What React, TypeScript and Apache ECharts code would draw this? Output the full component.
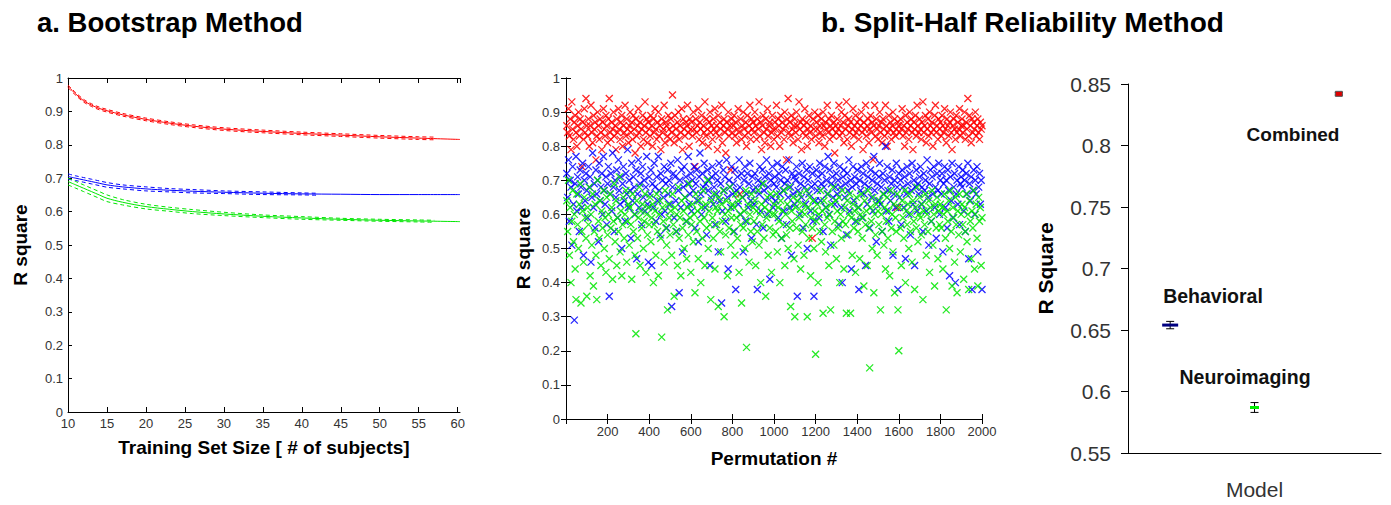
import React, { useEffect, useRef } from "react";
import * as echarts from "echarts";

// ---------- Panel a: Bootstrap method ----------
const trainingSizes = [10, 11, 12, 13, 14, 15, 17, 20, 23, 26, 30, 35, 40, 45, 50, 55, 60.3];
const combinedCurve = [0.975, 0.952, 0.932, 0.919, 0.909, 0.902, 0.89, 0.876, 0.865, 0.856, 0.847, 0.84, 0.834, 0.829, 0.824, 0.82, 0.816];
const behavioralCurve = [0.705, 0.7, 0.695, 0.69, 0.685, 0.68, 0.674, 0.668, 0.664, 0.661, 0.658, 0.655, 0.653, 0.652, 0.651, 0.651, 0.651];
const neuroCurve = [0.69, 0.68, 0.67, 0.66, 0.65, 0.64, 0.628, 0.615, 0.607, 0.6, 0.593, 0.586, 0.581, 0.577, 0.574, 0.572, 0.57];

const boundSizes = [10, 11, 12, 13, 14, 15, 17, 20, 23, 26, 30, 35, 40, 45, 50, 55, 57];
const combinedUpper = [0.979, 0.956, 0.936, 0.923, 0.913, 0.906, 0.894, 0.88, 0.869, 0.86, 0.851, 0.844, 0.838, 0.833, 0.828, 0.824, 0.823];
const combinedLower = [0.971, 0.948, 0.928, 0.915, 0.905, 0.898, 0.886, 0.872, 0.861, 0.852, 0.843, 0.836, 0.83, 0.825, 0.82, 0.816, 0.815];
const behavBoundSizes = [10, 11, 12, 13, 14, 15, 17, 20, 23, 26, 30, 35, 40, 42];
const behavioralUpper = [0.713, 0.707, 0.702, 0.697, 0.692, 0.687, 0.68, 0.674, 0.669, 0.666, 0.662, 0.659, 0.656, 0.655];
const behavioralLower = [0.697, 0.693, 0.688, 0.683, 0.678, 0.673, 0.668, 0.662, 0.659, 0.656, 0.654, 0.651, 0.65, 0.649];
const neuroUpper = [0.7, 0.69, 0.68, 0.67, 0.66, 0.65, 0.636, 0.622, 0.613, 0.606, 0.598, 0.59, 0.585, 0.58, 0.577, 0.575, 0.574];
const neuroLower = [0.68, 0.67, 0.66, 0.65, 0.64, 0.63, 0.62, 0.608, 0.601, 0.594, 0.588, 0.582, 0.577, 0.574, 0.571, 0.569, 0.568];

const trainingTicks = { min: 10, max: 60.3, interval: 5 };

// ---------- Panel b: Split-half permutations (every 4th permutation) ----------
const PERM_STEP = 4;
const permCombined = [
  0.86,0.84,0.91,0.83,0.88,0.79,0.93,0.85,0.82,0.87,0.89,0.84,0.80,0.86,0.90,0.83,0.88,0.85,0.74,0.87,0.82,0.91,0.84,0.94,0.86,
  0.83,0.88,0.80,0.86,0.92,0.84,0.81,0.89,0.85,0.87,0.76,0.83,0.90,0.86,0.82,0.88,0.84,0.79,0.87,0.91,0.85,0.83,0.89,0.86,0.81,
  0.88,0.94,0.84,0.82,0.87,0.85,0.90,0.83,0.86,0.79,0.88,0.84,0.91,0.85,0.82,0.87,0.89,0.80,0.86,0.84,0.92,0.83,0.88,0.85,0.81,
  0.86,0.90,0.84,0.87,0.82,0.89,0.85,0.78,0.88,0.83,0.86,0.91,0.84,0.87,0.80,0.85,0.89,0.82,0.86,0.93,0.84,0.88,0.81,0.87,0.85,
  0.83,0.89,0.86,0.80,0.88,0.84,0.91,0.85,0.82,0.87,0.90,0.83,0.86,0.79,0.88,0.84,0.85,0.92,0.81,0.87,0.86,0.83,0.89,0.85,0.82,
  0.88,0.84,0.95,0.86,0.81,0.89,0.85,0.83,0.87,0.90,0.82,0.86,0.84,0.91,0.79,0.88,0.85,0.83,0.87,0.86,0.92,0.84,0.80,0.88,0.85,
  0.87,0.83,0.90,0.85,0.74,0.88,0.84,0.86,0.91,0.82,0.87,0.85,0.89,0.81,0.86,0.84,0.93,0.83,0.88,0.85,0.80,0.87,0.90,0.84,0.86,
  0.82,0.88,0.85,0.91,0.84,0.86,0.79,0.89,0.83,0.87,0.85,0.92,0.81,0.86,0.88,0.84,0.78,0.87,0.85,0.90,0.83,0.86,0.73,0.88,0.84,
  0.86,0.89,0.83,0.87,0.81,0.85,0.91,0.84,0.66,0.88,0.82,0.86,0.90,0.85,0.83,0.87,0.80,0.89,0.84,0.86,0.92,0.82,0.88,0.85,0.87,
  0.84,0.90,0.86,0.82,0.88,0.85,0.93,0.83,0.87,0.79,0.86,0.89,0.84,0.81,0.88,0.85,0.91,0.83,0.86,0.87,0.80,0.84,0.89,0.85,0.82,
  0.87,0.85,0.92,0.83,0.88,0.86,0.80,0.89,0.84,0.87,0.85,0.82,0.90,0.86,0.76,0.88,0.94,0.84,0.87,0.83,0.89,0.85,0.81,0.86,0.88,
  0.84,0.90,0.86,0.82,0.93,0.85,0.87,0.79,0.88,0.84,0.86,0.91,0.83,0.87,0.80,0.85,0.89,0.84,0.86,0.82,0.53,0.88,0.85,0.90,0.83,
  0.87,0.85,0.89,0.81,0.86,0.84,0.88,0.83,0.90,0.86,0.80,0.87,0.85,0.92,0.84,0.88,0.82,0.86,0.89,0.85,0.83,0.87,0.78,0.86,0.84,
  0.88,0.85,0.92,0.83,0.86,0.90,0.84,0.87,0.81,0.89,0.85,0.93,0.82,0.86,0.88,0.84,0.87,0.80,0.85,0.91,0.83,0.86,0.89,0.84,0.87,
  0.85,0.82,0.88,0.86,0.90,0.84,0.79,0.87,0.85,0.92,0.83,0.86,0.88,0.81,0.85,0.89,0.84,0.87,0.76,0.86,0.92,0.83,0.88,0.85,0.82,
  0.86,0.90,0.84,0.87,0.81,0.88,0.85,0.83,0.92,0.86,0.80,0.84,0.89,0.85,0.87,0.82,0.86,0.90,0.84,0.88,0.83,0.85,0.62,0.87,0.86,
  0.84,0.88,0.85,0.91,0.83,0.86,0.80,0.89,0.84,0.87,0.85,0.82,0.90,0.86,0.88,0.84,0.79,0.87,0.85,0.89,0.83,0.92,0.86,0.84,0.88,
  0.85,0.82,0.87,0.93,0.84,0.86,0.89,0.81,0.85,0.88,0.83,0.90,0.86,0.84,0.87,0.80,0.85,0.89,0.92,0.84,0.86,0.82,0.88,0.85,0.87,
  0.83,0.89,0.86,0.84,0.91,0.85,0.81,0.88,0.86,0.83,0.87,0.90,0.84,0.79,0.86,0.88,0.85,0.82,0.89,0.84,0.87,0.85,0.91,0.83,0.86,
  0.88,0.84,0.86,0.90,0.82,0.87,0.85,0.94,0.83,0.89,0.86,0.81,0.88,0.84,0.87,0.85,0.90,0.83,0.86,0.88,0.84,0.82,0.87,0.85,0.86,
];
const permBehavioral = [
  0.72,0.65,0.76,0.58,0.70,0.68,0.51,0.74,0.63,0.29,0.69,0.77,0.61,0.71,0.66,0.55,0.73,0.68,0.62,0.75,0.48,0.70,0.64,0.72,0.67,
  0.59,0.74,0.68,0.71,0.46,0.65,0.78,0.62,0.69,0.56,0.73,0.66,0.70,0.52,0.75,0.64,0.68,0.72,0.60,0.77,0.67,0.63,0.71,0.57,0.69,
  0.74,0.36,0.66,0.72,0.61,0.78,0.68,0.55,0.70,0.65,0.73,0.59,0.76,0.67,0.63,0.71,0.50,0.69,0.74,0.64,0.58,0.72,0.66,0.79,0.62,
  0.70,0.67,0.53,0.75,0.64,0.71,0.68,0.60,0.73,0.47,0.66,0.76,0.62,0.69,0.72,0.57,0.74,0.65,0.70,0.61,0.68,0.77,0.63,0.46,0.71,
  0.66,0.73,0.45,0.69,0.62,0.75,0.68,0.58,0.71,0.64,0.77,0.67,0.54,0.72,0.60,0.70,0.65,0.74,0.61,0.69,0.56,0.73,0.66,0.70,0.63,
  0.75,0.33,0.68,0.72,0.59,0.71,0.64,0.55,0.76,0.67,0.37,0.70,0.62,0.73,0.49,0.68,0.74,0.65,0.71,0.58,0.69,0.77,0.63,0.66,0.72,
  0.61,0.70,0.67,0.74,0.56,0.69,0.73,0.64,0.52,0.71,0.78,0.66,0.60,0.72,0.68,0.75,0.62,0.69,0.54,0.73,0.67,0.70,0.45,0.65,0.71,
  0.74,0.63,0.68,0.57,0.72,0.66,0.70,0.49,0.75,0.64,0.69,0.34,0.61,0.73,0.67,0.71,0.58,0.76,0.65,0.44,0.70,0.68,0.62,0.74,0.66,
  0.69,0.55,0.73,0.38,0.67,0.71,0.63,0.76,0.68,0.60,0.72,0.65,0.49,0.70,0.74,0.58,0.66,0.72,0.62,0.69,0.75,0.64,0.53,0.71,0.67,
  0.63,0.72,0.68,0.57,0.38,0.70,0.66,0.74,0.61,0.69,0.73,0.56,0.67,0.71,0.64,0.76,0.60,0.68,0.72,0.41,0.70,0.65,0.74,0.62,0.69,
  0.71,0.64,0.68,0.75,0.59,0.72,0.66,0.70,0.53,0.74,0.67,0.61,0.69,0.73,0.57,0.70,0.65,0.76,0.62,0.68,0.48,0.72,0.66,0.71,0.63,
  0.70,0.74,0.36,0.67,0.72,0.60,0.69,0.65,0.75,0.56,0.71,0.68,0.63,0.73,0.50,0.70,0.66,0.74,0.61,0.68,0.72,0.58,0.36,0.69,0.64,
  0.73,0.67,0.71,0.59,0.75,0.64,0.69,0.72,0.55,0.68,0.74,0.62,0.70,0.66,0.77,0.60,0.73,0.51,0.69,0.71,0.65,0.75,0.63,0.68,0.72,
  0.66,0.70,0.57,0.74,0.68,0.62,0.40,0.71,0.73,0.65,0.69,0.54,0.72,0.67,0.76,0.61,0.70,0.44,0.68,0.74,0.64,0.71,0.58,0.69,0.73,
  0.62,0.38,0.70,0.67,0.74,0.59,0.72,0.66,0.69,0.45,0.75,0.63,0.71,0.68,0.56,0.73,0.65,0.70,0.61,0.77,0.67,0.72,0.52,0.69,0.64,
  0.71,0.75,0.63,0.68,0.55,0.72,0.66,0.70,0.80,0.61,0.74,0.67,0.58,0.71,0.64,0.69,0.73,0.48,0.66,0.70,0.62,0.75,0.68,0.38,0.72,
  0.65,0.70,0.57,0.73,0.68,0.62,0.71,0.47,0.66,0.74,0.69,0.60,0.72,0.54,0.67,0.75,0.63,0.70,0.45,0.68,0.73,0.61,0.69,0.66,0.71,
  0.74,0.63,0.68,0.55,0.72,0.67,0.70,0.61,0.76,0.65,0.51,0.69,0.73,0.58,0.71,0.66,0.74,0.62,0.68,0.53,0.72,0.67,0.75,0.60,0.70,
  0.66,0.72,0.49,0.69,0.74,0.62,0.70,0.56,0.73,0.67,0.42,0.71,0.64,0.75,0.59,0.68,0.72,0.40,0.66,0.70,0.63,0.74,0.57,0.69,0.71,
  0.68,0.73,0.61,0.70,0.55,0.72,0.66,0.75,0.47,0.69,0.64,0.71,0.38,0.67,0.73,0.60,0.70,0.66,0.74,0.49,0.68,0.72,0.63,0.70,0.38,
];
const permNeuro = [
  0.64,0.55,0.70,0.48,0.62,0.40,0.58,0.67,0.52,0.60,0.44,0.35,0.66,0.57,0.50,0.63,0.69,0.34,0.55,0.61,0.46,0.65,0.59,0.53,0.36,
  0.62,0.57,0.68,0.42,0.60,0.51,0.66,0.39,0.55,0.63,0.48,0.35,0.70,0.58,0.53,0.64,0.45,0.61,0.56,0.67,0.50,0.59,0.43,0.65,0.54,
  0.60,0.47,0.66,0.56,0.62,0.41,0.58,0.69,0.52,0.64,0.45,0.59,0.55,0.71,0.49,0.61,0.42,0.57,0.65,0.53,0.60,0.67,0.46,0.58,0.63,
  0.51,0.62,0.57,0.41,0.66,0.55,0.60,0.48,0.25,0.64,0.53,0.59,0.68,0.45,0.61,0.56,0.63,0.50,0.58,0.66,0.43,0.60,0.54,0.62,0.57,
  0.65,0.52,0.59,0.63,0.40,0.57,0.61,0.48,0.66,0.55,0.42,0.60,0.64,0.53,0.24,0.62,0.58,0.46,0.67,0.56,0.51,0.32,0.63,0.59,0.54,
  0.61,0.48,0.66,0.57,0.36,0.62,0.55,0.60,0.45,0.68,0.53,0.59,0.42,0.64,0.56,0.61,0.50,0.65,0.58,0.47,0.62,0.54,0.69,0.59,0.43,
  0.57,0.63,0.52,0.60,0.37,0.66,0.55,0.61,0.47,0.64,0.58,0.40,0.62,0.53,0.67,0.59,0.45,0.63,0.56,0.70,0.50,0.61,0.57,0.35,0.64,
  0.59,0.53,0.66,0.44,0.62,0.57,0.61,0.33,0.65,0.55,0.49,0.63,0.58,0.67,0.30,0.60,0.54,0.64,0.42,0.61,0.56,0.68,0.51,0.59,0.63,
  0.55,0.62,0.48,0.66,0.59,0.53,0.64,0.43,0.60,0.57,0.34,0.65,0.56,0.61,0.50,0.67,0.21,0.58,0.63,0.46,0.60,0.55,0.66,0.52,0.62,
  0.58,0.64,0.45,0.61,0.55,0.67,0.51,0.60,0.40,0.63,0.57,0.69,0.53,0.62,0.36,0.59,0.65,0.48,0.61,0.56,0.66,0.43,0.60,0.54,0.63,
  0.60,0.55,0.66,0.49,0.62,0.58,0.40,0.64,0.53,0.61,0.57,0.67,0.45,0.60,0.54,0.63,0.50,0.68,0.56,0.33,0.61,0.58,0.65,0.47,0.30,
  0.62,0.56,0.64,0.51,0.59,0.66,0.44,0.61,0.55,0.63,0.48,0.60,0.57,0.67,0.30,0.62,0.53,0.65,0.42,0.59,0.56,0.64,0.50,0.61,0.19,
  0.58,0.63,0.40,0.60,0.55,0.67,0.52,0.61,0.31,0.64,0.57,0.49,0.62,0.59,0.66,0.45,0.60,0.32,0.63,0.55,0.68,0.51,0.58,0.64,0.47,
  0.61,0.56,0.65,0.40,0.60,0.53,0.67,0.58,0.44,0.62,0.57,0.31,0.64,0.54,0.60,0.66,0.31,0.59,0.48,0.63,0.56,0.61,0.43,0.65,0.58,
  0.55,0.62,0.47,0.60,0.66,0.53,0.59,0.39,0.64,0.57,0.61,0.45,0.67,0.56,0.15,0.62,0.58,0.50,0.65,0.37,0.60,0.54,0.63,0.48,0.61,
  0.57,0.64,0.32,0.60,0.55,0.66,0.51,0.62,0.44,0.58,0.65,0.53,0.61,0.42,0.67,0.56,0.60,0.49,0.63,0.37,0.59,0.55,0.66,0.32,0.20,
  0.62,0.56,0.45,0.64,0.59,0.53,0.67,0.40,0.61,0.57,0.63,0.50,0.66,0.55,0.60,0.46,0.64,0.58,0.38,0.62,0.56,0.68,0.52,0.60,0.65,
  0.59,0.54,0.63,0.35,0.61,0.57,0.66,0.48,0.60,0.55,0.64,0.43,0.62,0.58,0.67,0.51,0.60,0.39,0.63,0.56,0.65,0.47,0.61,0.57,0.63,
  0.56,0.62,0.44,0.60,0.66,0.53,0.32,0.61,0.58,0.64,0.50,0.67,0.55,0.39,0.62,0.59,0.46,0.65,0.57,0.37,0.61,0.54,0.66,0.49,0.60,
  0.63,0.57,0.41,0.62,0.55,0.66,0.52,0.60,0.38,0.64,0.58,0.47,0.61,0.56,0.67,0.44,0.60,0.63,0.53,0.39,0.65,0.58,0.62,0.45,0.59,
];
const permTicks = { min: 0, max: 2000, interval: 200 };

// ---------- Panel c: Split-half summary ----------
const models = ["Behavioral", "Neuroimaging", "Combined"];
const modelMeans = [0.654, 0.587, 0.842];
const modelLow = [0.651, 0.583, 0.841];
const modelHigh = [0.657, 0.591, 0.843];
const modelTicks = { min: 0.55, max: 0.85, interval: 0.05 };

// ---------- styles ----------
const FONT = "'Liberation Sans', Arial, Helvetica, sans-serif";
const RED = "#ff0000";
const BLUE = "#0000ff";
const GREEN = "#00e600";
const markerStyles = [
  { w: 16, h: 3, fill: "#000080", stroke: "none" },
  { w: 9, h: 3, fill: "#00ee00", stroke: "none" },
  { w: 7, h: 5, fill: "#e00000", stroke: "#555" },
];
const X_SYMBOL = "path://M0,0L10,10M10,0L0,10";

const tickLabel = { fontFamily: FONT, fontSize: 13, color: "#333" };
const axisNameStyle = { fontFamily: FONT, fontSize: 19, fontWeight: "bold" as const, color: "#000" };
const blackLine = { show: true, lineStyle: { color: "#000", width: 1 } };

function pairs(xs: number[], ys: number[]) {
  return ys.map((y, i) => [xs[i], y]);
}
function permPairs(ys: number[]) {
  return ys.map((y, i) => [PERM_STEP * (i + 1), y]);
}

function buildOption(): any {
  const lineSeries = (name: string, xs: number[], ys: number[], color: string, dashed: boolean) => ({
    type: "line",
    name,
    xAxisIndex: 0,
    yAxisIndex: 0,
    data: pairs(xs, ys),
    smooth: 0.3,
    symbol: "none",
    lineStyle: { color, width: 1, type: dashed ? [4, 3] : "solid" },
    silent: true,
    z: dashed ? 2 : 3,
  });
  const scatterSeries = (name: string, ys: number[], color: string) => ({
    type: "scatter",
    name,
    xAxisIndex: 2,
    yAxisIndex: 1,
    data: permPairs(ys),
    symbol: X_SYMBOL,
    symbolSize: 7,
    itemStyle: { color, borderColor: color, borderWidth: 1.3, opacity: 0.85 },
    silent: true,
  });

  return {
    animation: false,
    backgroundColor: "#fff",
    title: [
      { text: "a. Bootstrap Method", left: 37, top: 8, padding: 0, textStyle: { fontFamily: FONT, fontSize: 27.5, fontWeight: "bold", color: "#000" } },
      { text: "b. Split-Half Reliability Method", left: 821, top: 8, padding: 0, textStyle: { fontFamily: FONT, fontSize: 28, fontWeight: "bold", color: "#000" } },
    ],
    grid: [
      { left: 68, top: 78, width: 392, height: 334 },
      { left: 566, top: 78, width: 416, height: 341 },
      { left: 1128, top: 84, width: 253, height: 372 },
    ],
    xAxis: [
      {
        type: "value", gridIndex: 0, position: "bottom", ...trainingTicks,
        axisLine: blackLine, axisTick: { show: true, inside: true, length: 5, lineStyle: { color: "#000" } },
        axisLabel: { ...tickLabel, margin: 5 }, splitLine: { show: false },
        name: "Training Set Size [ # of subjects]", nameLocation: "middle", nameGap: 26, nameTextStyle: axisNameStyle,
      },
      {
        type: "value", gridIndex: 0, position: "top", ...trainingTicks,
        axisLine: blackLine, axisTick: { show: true, inside: true, length: 5, lineStyle: { color: "#000" } },
        axisLabel: { show: false }, splitLine: { show: false },
      },
      {
        type: "value", gridIndex: 1, position: "bottom", ...permTicks,
        axisLine: blackLine, axisTick: { show: true, inside: true, length: 5, lineStyle: { color: "#000" } },
        axisLabel: { ...tickLabel, margin: 6, formatter: (v: number) => (v === 0 ? "" : String(v)) }, splitLine: { show: false },
        name: "Permutation #", nameLocation: "middle", nameGap: 30, nameTextStyle: axisNameStyle,
      },
      {
        type: "value", gridIndex: 1, position: "top", ...permTicks,
        axisLine: blackLine, axisTick: { show: true, inside: true, length: 5, lineStyle: { color: "#000" } },
        axisLabel: { show: false }, splitLine: { show: false },
      },
      {
        type: "category", gridIndex: 2, position: "bottom", data: models, boundaryGap: true,
        axisLine: blackLine, axisTick: { show: false }, axisLabel: { show: false }, splitLine: { show: false },
        name: "Model", nameLocation: "middle", nameGap: 26,
        nameTextStyle: { fontFamily: FONT, fontSize: 21, color: "#333" },
      },
    ],
    yAxis: [
      {
        type: "value", gridIndex: 0, position: "left", min: 0, max: 1, interval: 0.1,
        axisLine: blackLine, axisTick: { show: true, inside: true, length: 4, lineStyle: { color: "#000" } },
        axisLabel: { ...tickLabel, margin: 5 }, splitLine: { show: false },
        name: "R square", nameLocation: "middle", nameGap: 38, nameRotate: 90, nameTextStyle: axisNameStyle,
      },
      {
        type: "value", gridIndex: 1, position: "left", min: 0, max: 1, interval: 0.1,
        axisLine: blackLine, axisTick: { show: true, inside: true, length: 5, lineStyle: { color: "#000" } },
        axisLabel: { ...tickLabel, margin: 6 }, splitLine: { show: false },
        name: "R square", nameLocation: "middle", nameGap: 33, nameRotate: 90, nameTextStyle: axisNameStyle,
      },
      {
        type: "value", gridIndex: 1, position: "right", min: 0, max: 1, interval: 0.1,
        axisLine: blackLine, axisTick: { show: true, inside: true, length: 5, lineStyle: { color: "#000" } },
        axisLabel: { show: false }, splitLine: { show: false },
      },
      {
        type: "value", gridIndex: 2, position: "left", ...modelTicks,
        axisLine: blackLine, axisTick: { show: true, inside: false, length: 7, lineStyle: { color: "#000" } },
        axisLabel: { fontFamily: FONT, fontSize: 21, color: "#333", margin: 17 }, splitLine: { show: false },
        name: "R Square", nameLocation: "middle", nameGap: 72, nameRotate: 90,
        nameTextStyle: { fontFamily: FONT, fontSize: 21, fontWeight: "bold", color: "#000" },
      },
    ],
    series: [
      lineSeries("Combined", trainingSizes, combinedCurve, RED, false),
      lineSeries("Combined upper", boundSizes, combinedUpper, RED, true),
      lineSeries("Combined lower", boundSizes, combinedLower, RED, true),
      lineSeries("Behavioral", trainingSizes, behavioralCurve, BLUE, false),
      lineSeries("Behavioral upper", behavBoundSizes, behavioralUpper, BLUE, true),
      lineSeries("Behavioral lower", behavBoundSizes, behavioralLower, BLUE, true),
      lineSeries("Neuroimaging", trainingSizes, neuroCurve, GREEN, false),
      lineSeries("Neuroimaging upper", boundSizes, neuroUpper, GREEN, true),
      lineSeries("Neuroimaging lower", boundSizes, neuroLower, GREEN, true),
      scatterSeries("Combined", permCombined, RED),
      scatterSeries("Behavioral", permBehavioral, BLUE),
      scatterSeries("Neuroimaging", permNeuro, GREEN),
      {
        type: "custom",
        name: "Model R Square",
        xAxisIndex: 4,
        yAxisIndex: 3,
        silent: true,
        data: models.map((_, i) => [i, modelMeans[i], modelLow[i], modelHigh[i]]),
        renderItem: (params: any, api: any) => {
          const idx = api.value(0);
          const c = api.coord([idx, api.value(1)]);
          const lo = api.coord([idx, api.value(2)]);
          const hi = api.coord([idx, api.value(3)]);
          const st = markerStyles[params.dataIndex];
          const ls = { stroke: "#000", lineWidth: 1 };
          return {
            type: "group",
            children: [
              { type: "line", shape: { x1: c[0], y1: hi[1], x2: c[0], y2: lo[1] }, style: ls },
              { type: "line", shape: { x1: c[0] - 4, y1: hi[1], x2: c[0] + 4, y2: hi[1] }, style: ls },
              { type: "line", shape: { x1: c[0] - 4, y1: lo[1], x2: c[0] + 4, y2: lo[1] }, style: ls },
              {
                type: "rect",
                shape: { x: c[0] - st.w / 2, y: c[1] - st.h / 2, width: st.w, height: st.h },
                style: { fill: st.fill, stroke: st.stroke, lineWidth: 1 },
              },
            ],
          };
        },
      },
    ],
    graphic: [
      { type: "text", x: 1293, y: 134, style: { text: "Combined", fontFamily: FONT, fontSize: 19, fontWeight: "bold", fill: "#111", align: "center", verticalAlign: "middle" } },
      { type: "text", x: 1213, y: 296, style: { text: "Behavioral", fontFamily: FONT, fontSize: 19.5, fontWeight: "bold", fill: "#111", align: "center", verticalAlign: "middle" } },
      { type: "text", x: 1245, y: 377, style: { text: "Neuroimaging", fontFamily: FONT, fontSize: 19.5, fontWeight: "bold", fill: "#111", align: "center", verticalAlign: "middle" } },
    ],
  };
}

export default function App() {
  const ref = useRef<HTMLDivElement>(null);
  useEffect(() => {
    document.body.style.margin = "0";
    if (!ref.current) return;
    const chart = echarts.init(ref.current, null, { renderer: "svg" });
    chart.setOption(buildOption());
    return () => chart.dispose();
  }, []);
  return <div ref={ref} style={{ width: 1391, height: 505 }} />;
}
